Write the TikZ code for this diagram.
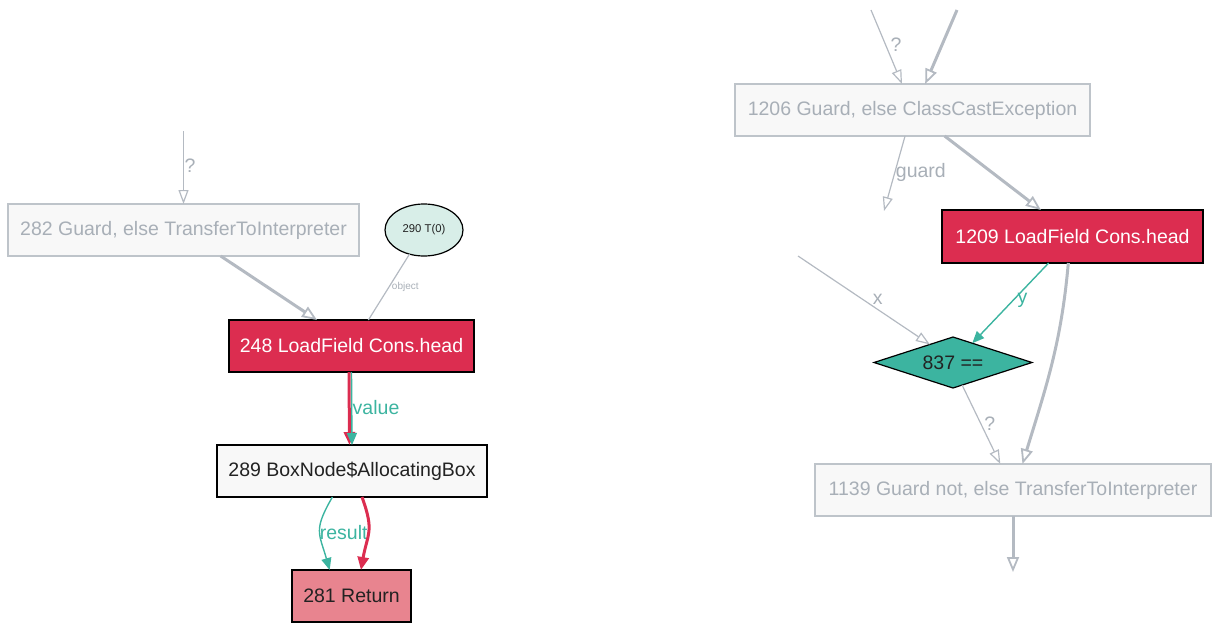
\documentclass[tikz,border=0pt]{standalone}
\usepackage{fontspec}
\setmainfont{Liberation Sans}
\usetikzlibrary{arrows.meta,shapes.geometric}
\definecolor{edgegray}{HTML}{B4BAC2}
\definecolor{bordgray}{HTML}{BEC4CA}
\definecolor{txtgray}{HTML}{A8AFB7}
\definecolor{crim}{HTML}{DC2D50}
\definecolor{tealc}{HTML}{3CB4A0}
\definecolor{retfill}{HTML}{E8848F}
\definecolor{boxfill}{HTML}{F8F8F8}
\definecolor{ellfill}{HTML}{D8EEE8}
\definecolor{darktxt}{HTML}{222222}
\begin{document}
\begin{tikzpicture}[x=1pt,y=-1pt,
  every node/.style={inner sep=0pt,outer sep=0pt},
  lbl/.style={font=\fontsize{19.5}{22}\selectfont},
  graybox/.style={lbl,rectangle,draw=bordgray,fill=boxfill,text=txtgray,line width=1.1pt,minimum height=52pt},
  redbox/.style={lbl,rectangle,draw=black,fill=crim,text=white,line width=1.2pt,minimum height=52pt},
  whitebox/.style={lbl,rectangle,draw=black,fill=boxfill,text=darktxt,line width=1.2pt,minimum height=52pt},
  retbox/.style={lbl,rectangle,draw=black,fill=retfill,text=darktxt,line width=1.2pt,minimum height=52pt},
  thinedge/.style={draw=edgegray,line width=1.2pt,-{Triangle[open,length=14pt,width=10pt,line width=1.2pt]}},
  thickedge/.style={draw=edgegray,line width=3pt,-{Triangle[open,length=15pt,width=12pt,line width=1.8pt]}},
  plainedge/.style={draw=edgegray,line width=1.2pt},
  tealedge/.style={draw=tealc,line width=1.4pt,-{Triangle[length=12pt,width=10pt]}},
  rededge/.style={draw=crim,line width=3pt,-{Triangle[length=13pt,width=11pt]}},
  graylbl/.style={lbl,text=txtgray},
  teallbl/.style={lbl,text=tealc},
]
\useasboundingbox (0,0) rectangle (1216,622);

% ---------- left graph ----------
\node[graybox,minimum width=351pt] (n282) at (183.5,230) {282 Guard, else TransferToInterpreter};
\node[ellipse,draw=black,fill=ellfill,line width=1.2pt,minimum width=78pt,minimum height=52pt,
      font=\fontsize{11.3}{13}\selectfont,text=darktxt] (n290) at (424,230) {290 T(0)};
\node[redbox,minimum width=245pt] (n248) at (351.5,346) {248 LoadField Cons.head};
\node[whitebox,minimum width=270pt] (n289) at (352,471) {289 BoxNode\$AllocatingBox};
\node[retbox,minimum width=119pt] (n281) at (351.5,596) {281 Return};

\coordinate (f1) at (183.5,131);

\draw[thinedge] (f1) -- node[graylbl,anchor=west,pos=0.47,xshift=1pt] {?} (n282.north);
\draw[thickedge] (n282.-35.5) -- (n248.143);
\draw[plainedge] (n290.-121.6) -- node[anchor=west,pos=0.5,xshift=3pt,text=txtgray,font=\fontsize{10}{12}\selectfont] {object} (n248.57.6);
\draw[rededge] ([xshift=-2.5pt]n248.south) -- ([xshift=-2.5pt]n289.north);
\draw[tealedge] (n248.south) -- node[teallbl,anchor=west,pos=0.48,xshift=1pt] {value} (n289.north);
\draw[tealedge] (n289.-127.6) to[out=-120,in=106,looseness=1.35] node[teallbl,anchor=west,pos=0.5,xshift=0pt] {result} (n281.130.9);
\draw[rededge] (n289.-69) to[out=-70,in=80,looseness=1.3] (n281.70);

% ---------- right graph ----------
\node[graybox,minimum width=355pt] (n1206) at (912.5,110) {1206 Guard, else ClassCastException};
\node[redbox,minimum width=261pt,minimum height=53pt] (n1209) at (1072.5,236.5) {1209 LoadField Cons.head};
\node[diamond,draw=black,fill=tealc,line width=1.2pt,minimum width=158pt,minimum height=51pt,aspect=3.1,
      lbl,text=darktxt] (n837) at (953,362.5) {837 ==};
\node[graybox,minimum width=396pt] (n1139) at (1013,490) {1139 Guard not, else TransferToInterpreter};

\coordinate (f2) at (871,10);
\coordinate (f3) at (957,10);
\coordinate (f4) at (884,211);
\coordinate (f5) at (798,256);
\coordinate (f6) at (1013,572);

\draw[thinedge] (f2) -- node[graylbl,anchor=west,pos=0.47,xshift=5pt] {?} (n1206.112);
\draw[thickedge] (f3) -- (n1206.64.3);
\draw[thinedge] (n1206.-106) -- node[graylbl,anchor=west,pos=0.48,xshift=1pt] {guard} (f4);
\draw[thickedge] (n1206.-39.5) -- (n1209.140.1);
\draw[thinedge] (f5) -- node[graylbl,pos=0.49,xshift=15pt] {x} (n837.142.7);
\draw[tealedge] (n1209.-132.8) -- node[teallbl,pos=0.46,xshift=9pt] {y} (n837.45.7);
\draw[thinedge] (n837.-68.6) -- node[graylbl,pos=0.49,xshift=9pt] {?} (n1139.116.6);
\draw[thickedge] (n1209.-99.6) to[out=-95,in=73] (n1139.70.9);
\draw[thickedge] (n1139.south) -- (f6);
\end{tikzpicture}
\end{document}
